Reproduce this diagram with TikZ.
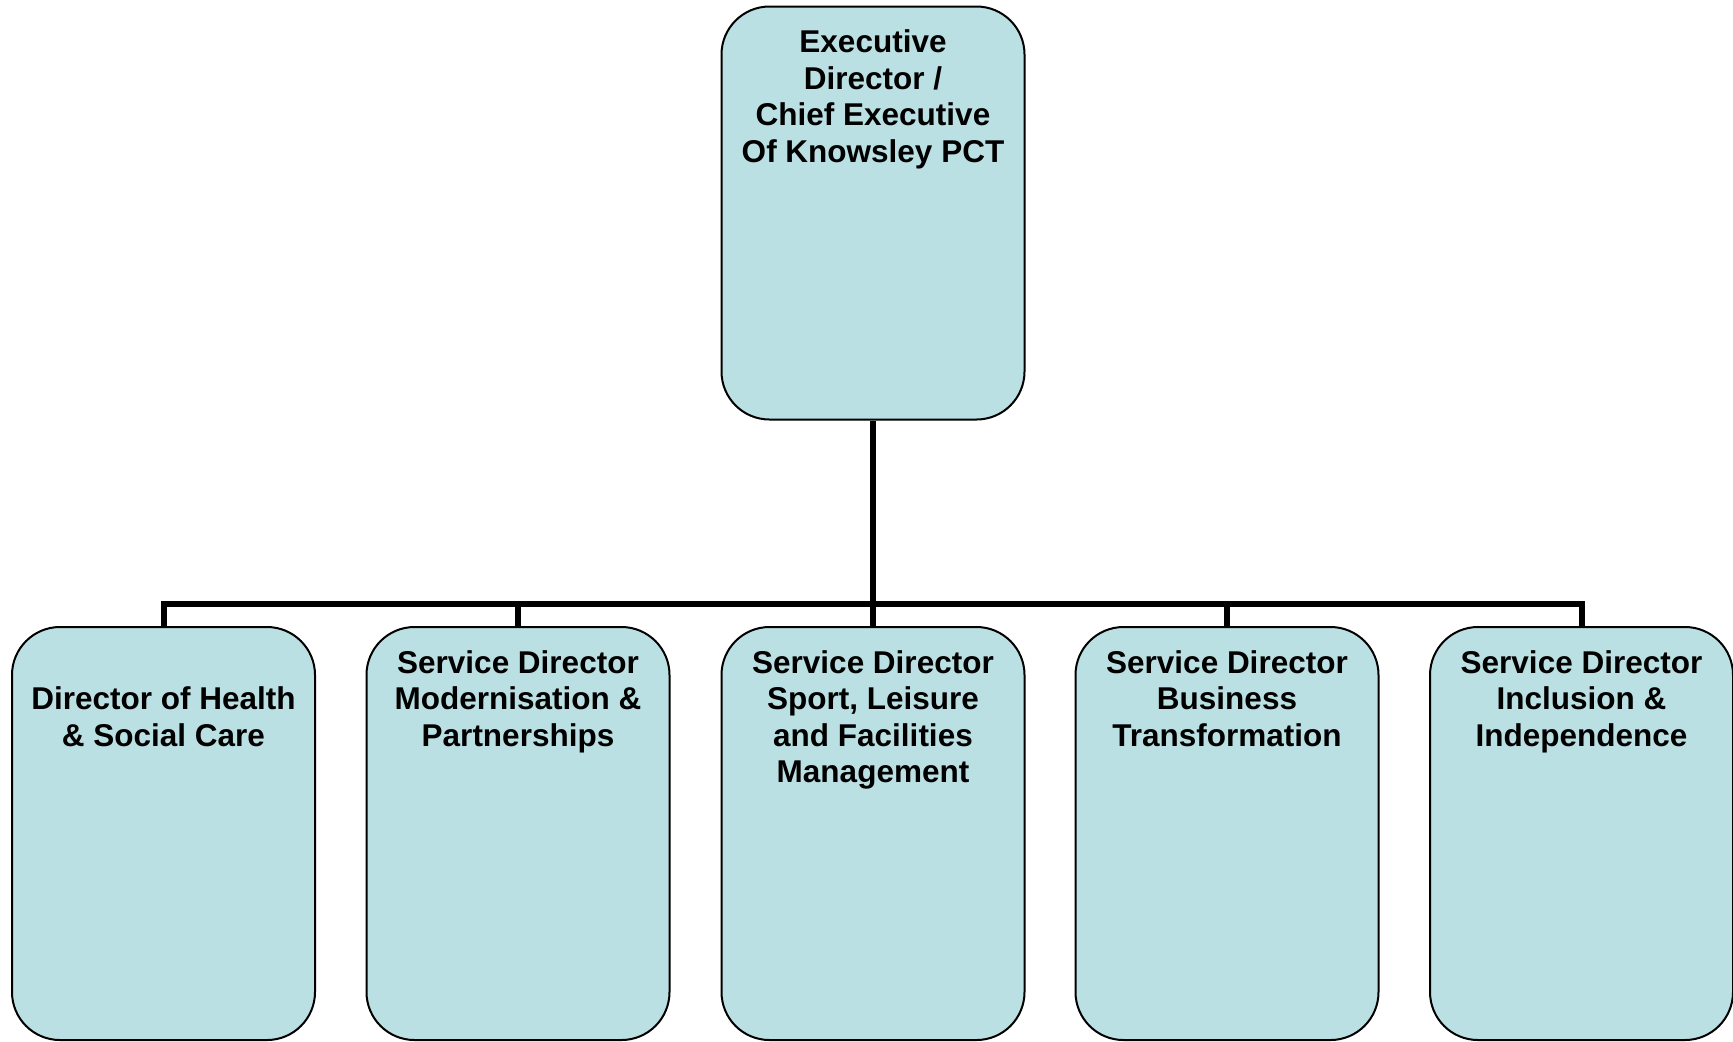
\documentclass[tikz,border=0pt]{standalone}
\usepackage{fontspec}
\setmainfont{Liberation Sans}
\usetikzlibrary{positioning}
\definecolor{postblue}{RGB}{187,224,227}

\begin{document}
\begin{tikzpicture}[x=0.5pt, y=-0.5pt,
  post/.style = {draw, line width=1pt, fill=postblue, rounded corners=24pt,
    minimum width=151.5pt, minimum height=206.5pt, inner sep=0pt},
  title/.style = {align=center, inner sep=0pt,
    font=\fontsize{15.75}{18.25}\selectfont\bfseries},
  wire/.style = {line width=3pt}]
  \useasboundingbox (0,0) rectangle (1733,1041);
  \node[post] (ed) at (873,213) {};
  \node[post] (hsc) at (163.5,833.5) {};
  \node[post] (mod) at (518,833.5) {};
  \node[post] (slf) at (873,833.5) {};
  \node[post] (bt) at (1227,833.5) {};
  \node[post] (inc) at (1581.5,833.5) {};
  \coordinate (bus) at (873,603.5);
  \draw[wire] (ed.south) -- (slf.north);
  \draw[wire] (hsc.north) |- (bus) -| (inc.north);
  \draw[wire] (mod.north) -- (mod.north |- bus);
  \draw[wire] (bt.north) -- (bt.north |- bus);
  \node[title, below=12pt of ed.north] (ed-t)
    {Executive\\Director /\\Chief Executive\\Of Knowsley PCT};
  \node[title, below=30.25pt of hsc.north] (hsc-t)
    {Director of Health\\\& Social Care};
  \node[title, below=12pt of mod.north] (mod-t)
    {Service Director\\Modernisation \&\\Partnerships};
  \node[title, below=12pt of slf.north] (slf-t)
    {Service Director\\Sport, Leisure\\and Facilities\\Management};
  \node[title, below=12pt of bt.north] (bt-t)
    {Service Director\\Business\\Transformation};
  \node[title, below=12pt of inc.north] (inc-t)
    {Service Director\\Inclusion \&\\Independence};
\end{tikzpicture}
\end{document}
